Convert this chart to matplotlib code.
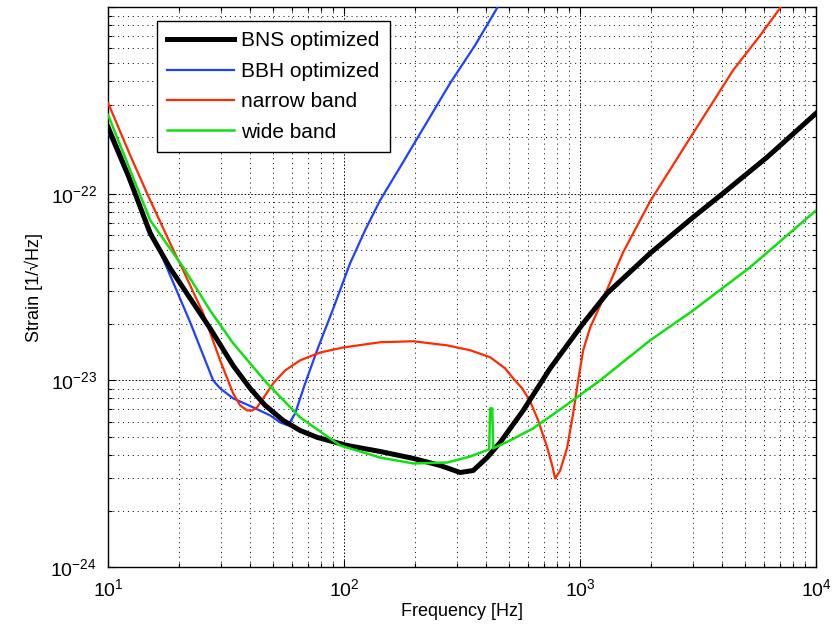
import matplotlib
matplotlib.use('Agg')
import matplotlib.pyplot as plt

plt.rcParams['font.family'] = ['Liberation Sans', 'DejaVu Sans']
plt.rcParams['mathtext.fontset'] = 'custom'
plt.rcParams['mathtext.rm'] = 'Liberation Sans'
plt.rcParams['mathtext.it'] = 'Liberation Sans'
plt.rcParams['mathtext.bf'] = 'Liberation Sans'

# BNS optimized
bns_f = [10, 12.15, 15.07, 18.31, 22.26, 27.05, 33.86, 39.97, 46.28, 55.16, 65.10,
         76.88, 102.97, 142.1, 196.1, 255.2, 310.1, 352.2, 403.5, 458.1, 573.6,
         746.3, 1029.7, 1301.4, 1980.6, 3011, 4035, 6201, 10000]
bns_h = [2.27e-22, 1.26e-22, 6.14e-23, 3.99e-23, 2.75e-23, 1.90e-23, 1.20e-23, 9.06e-24,
         7.35e-24, 6.10e-24, 5.39e-24, 4.95e-24, 4.48e-24, 4.16e-24, 3.82e-24, 3.50e-24,
         3.21e-24, 3.29e-24, 3.86e-24, 4.65e-24, 6.90e-24, 1.16e-23, 2.02e-23, 2.93e-23,
         4.80e-23, 7.48e-23, 1.006e-22, 1.57e-22, 2.70e-22]

# BBH optimized
bbh_f = [10, 14.07, 17.78, 22.26, 27.86, 29.83, 33.86, 41.16, 48.59, 53.57, 57.90,
         62.00, 68.35, 77.59, 88.97, 106.0, 122.7, 142.1, 172.8, 220.4, 281.3, 359.1,
         444.9]
bbh_h = [2.14e-22, 7.86e-23, 3.99e-23, 2.05e-23, 1.00e-23, 9.06e-24, 8.01e-24, 7.17e-24,
         6.49e-24, 5.95e-24, 5.74e-24, 6.65e-24, 9.63e-24, 1.50e-23, 2.34e-23, 4.24e-23,
         6.37e-23, 9.23e-23, 1.39e-22, 2.33e-22, 3.91e-22, 6.25e-22, 9.88e-22]

# narrow band
nb_f = [10, 12.39, 15.07, 18.31, 20.79, 25.27, 29.83, 33.86, 36.25, 38.82, 40.76, 42.80,
        46.28, 50.03, 56.23, 65.10, 79.11, 99.03, 142.1, 196.1, 273.2, 342.0, 415.6,
        481.0, 520.1, 568.0, 614.0, 663.8, 724.8, 761.0, 783.6, 822.9, 881.0, 934.0,
        980.6, 1029.7, 1102.6, 1215.4, 1521.2, 1980.6, 3011, 4449, 5679, 7039]
nb_h = [3.06e-22, 1.61e-22, 9.23e-23, 5.43e-23, 3.89e-23, 2.29e-23, 1.28e-23, 8.52e-24,
        7.35e-24, 6.90e-24, 6.90e-24, 7.17e-24, 8.31e-24, 9.63e-24, 1.13e-23, 1.28e-23,
        1.41e-23, 1.50e-23, 1.60e-23, 1.62e-23, 1.54e-23, 1.45e-23, 1.33e-23, 1.16e-23,
        1.025e-23, 9.06e-24, 7.72e-24, 6.10e-24, 4.37e-24, 3.50e-24, 2.98e-24, 3.29e-24,
        4.37e-24, 6.65e-24, 1.00e-23, 1.45e-23, 1.92e-23, 2.52e-23, 4.86e-23, 9.12e-23,
        2.11e-22, 4.59e-22, 6.82e-22, 9.88e-22]

# wide band
wb_f = [10, 12.39, 15.07, 20.79, 27.05, 33.86, 47.19, 65.10, 96.18, 142.1, 196.1, 273.2,
        342.0, 411.5, 415.6, 423.9, 428.0, 505.0, 632.2, 881.0, 1215.4, 1980.6, 3011,
        5252, 10000]
wb_h = [2.64e-22, 1.34e-22, 7.21e-23, 4.04e-23, 2.37e-23, 1.58e-23, 9.63e-24, 6.33e-24,
        4.48e-24, 3.86e-24, 3.59e-24, 3.63e-24, 3.91e-24, 4.27e-24, 7.08e-24, 7.08e-24,
        4.32e-24, 4.77e-24, 5.53e-24, 7.43e-24, 1.00e-23, 1.64e-23, 2.37e-23, 4.04e-23,
        8.15e-23]

fig = plt.figure(figsize=(8.38, 6.35), dpi=100)
ax = fig.add_axes([0.129, 0.107, 0.845, 0.882])

ax.loglog(bns_f, bns_h, color='black', lw=3.6, label='BNS optimized', zorder=5)
ax.loglog(bbh_f, bbh_h, color='#2040ff', lw=1.6, label='BBH optimized', zorder=4)
ax.loglog(nb_f, nb_h, color='#ff2a00', lw=1.6, label='narrow band', zorder=4)
ax.loglog(wb_f, wb_h, color='#10e010', lw=1.8, label='wide band', zorder=6)

ax.set_xlim(10, 1e4)
ax.set_ylim(1e-24, 1e-21)
ax.set_xticks([10, 100, 1000, 10000])
ax.set_xticklabels([r'$10^{1}$', r'$10^{2}$', r'$10^{3}$', r'$10^{4}$'])
ax.set_yticks([1e-24, 1e-23, 1e-22, 1e-21])
ax.set_yticklabels([r'$10^{-24}$', r'$10^{-23}$', r'$10^{-22}$', ''])

ax.grid(True, which='major', color='black', lw=0.7, linestyle=(0, (1.5, 2)))
ax.grid(True, which='minor', color='black', lw=0.7, linestyle=(0, (1, 4)))
ax.tick_params(which='both', direction='in', top=True, right=True, labelsize=14)
ax.tick_params(which='major', length=5, width=0.8, pad=8)
ax.tick_params(which='minor', length=3, width=0.8)
for s in ax.spines.values():
    s.set_linewidth(1.0)

ax.set_xlabel('Frequency [Hz]', fontsize=13, labelpad=2)
ax.set_ylabel('Strain [1/\u221aHz]', fontsize=13, labelpad=5)

leg = ax.legend(loc='upper left', bbox_to_anchor=(0.069, 0.975), borderaxespad=0,
                fontsize=15, handlelength=3.2, handletextpad=0.35, labelspacing=0.55,
                fancybox=False, framealpha=1, edgecolor='black', borderpad=0.5)
leg.get_frame().set_linewidth(1.0)

fig.savefig('out.png', dpi=100, facecolor='white')
